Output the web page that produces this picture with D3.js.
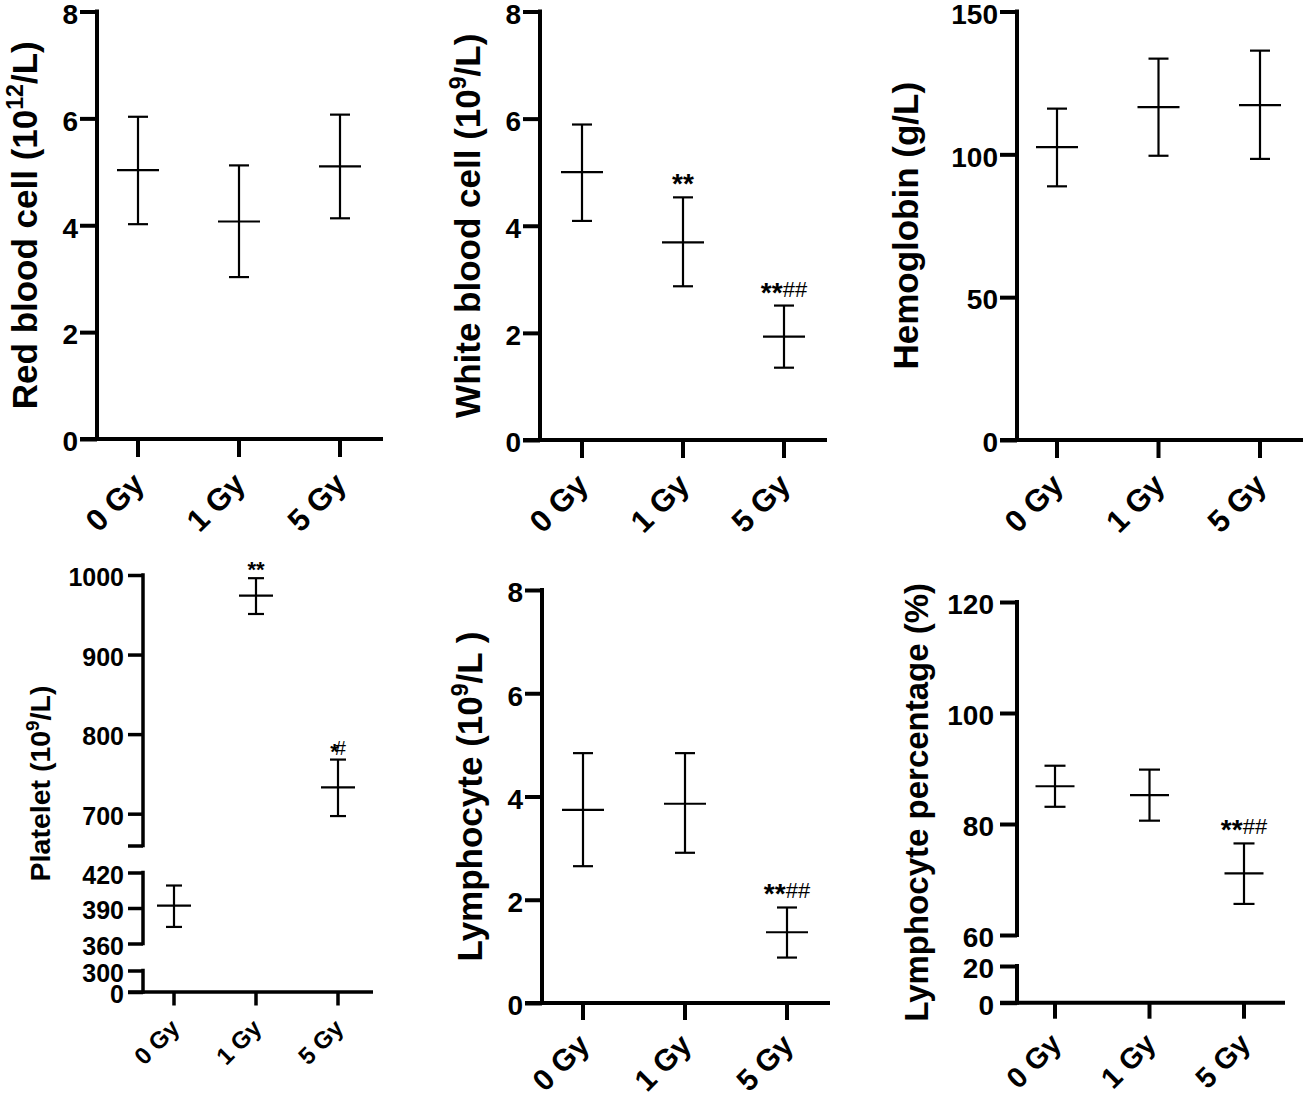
<!DOCTYPE html>
<html>
<head>
<meta charset="utf-8">
<script src="https://cdn.jsdelivr.net/npm/d3@7"></script>
<style>
  body { margin: 0; background: #fff; }
  svg { font-family: "Liberation Sans", Arial, sans-serif; }
</style>
</head>
<body>
<svg id="fig" width="1305" height="1097"></svg>
<script>
// doses on the x axis
const doses = ["0 Gy", "1 Gy", "5 Gy"];

// red blood cell (10^12/L)
const rbcMean  = [5.03, 4.07, 5.10];
const rbcUpper = [6.03, 5.12, 6.07];
const rbcLower = [4.02, 3.03, 4.13];

// white blood cell (10^9/L)
const wbcMean  = [5.00, 3.69, 1.93];
const wbcUpper = [5.89, 4.53, 2.51];
const wbcLower = [4.09, 2.87, 1.35];
const wbcSig   = ["", "**", "**##"];

// hemoglobin (g/L)
const hgbMean  = [102.5, 116.5, 117.2];
const hgbUpper = [116.0, 133.5, 136.3];
const hgbLower = [88.8, 99.5, 98.4];

// platelet (10^9/L)
const pltMean  = [392, 974, 733];
const pltUpper = [409, 996, 768];
const pltLower = [374, 951, 697];
const pltSig   = ["", "**", "*#"];

// lymphocyte (10^9/L)
const lymMean  = [3.74, 3.86, 1.37];
const lymUpper = [4.84, 4.84, 1.85];
const lymLower = [2.65, 2.91, 0.88];
const lymSig   = ["", "", "**##"];

// lymphocyte percentage (%)
const lpcMean  = [86.8, 85.2, 71.1];
const lpcUpper = [90.5, 89.8, 76.5];
const lpcLower = [83.1, 80.6, 65.6];
const lpcSig   = ["", "", "**##"];

// tick values
const ticks8   = [0, 2, 4, 6, 8];
const ticksHgb = [0, 50, 100, 150];
const ticksPlt = [0, 300, 360, 390, 420, 660, 700, 800, 900, 1000];
const ticksLpc = [0, 20, 60, 80, 100, 120];

const svg = d3.select("#fig");

function drawPanel(p) {
  const g = svg.append("g");

  const y = d3.scaleLinear().domain(p.yDomain).range(p.yRange);
  const x = d3.scalePoint().domain(doses).range(p.xRange);
  const y0 = y(0);

  // y ticks + labels
  const yAxis = g.append("g")
    .attr("transform", `translate(${p.ax},0)`)
    .call(d3.axisLeft(y)
      .tickValues(p.ticks)
      .tickSize(p.tickLen)
      .tickPadding(p.pad)
      .tickFormat(d => (p.hide || []).includes(d) ? "" : d));
  yAxis.select(".domain").remove();
  yAxis.selectAll("line").attr("stroke", "#000").attr("stroke-width", p.axisW);
  yAxis.selectAll("text")
    .attr("font-size", p.tickFont)
    .attr("font-weight", "bold")
    .attr("fill", "#000")
    .attr("dy", "0.42em")
    .attr("font-family", "Liberation Sans, Arial, sans-serif");

  // y axis line (possibly broken)
  const segs = p.segments || [[p.yDomain[0], p.yDomain[p.yDomain.length - 1]]];
  segs.forEach(s => {
    g.append("line")
      .attr("x1", p.ax).attr("x2", p.ax)
      .attr("y1", y(s[0]) + p.axisW / 2).attr("y2", y(s[1]) - p.axisW / 2)
      .attr("stroke", "#000").attr("stroke-width", p.axisW);
  });

  // x axis
  g.append("line")
    .attr("x1", p.ax - p.tickLen).attr("x2", p.xEnd)
    .attr("y1", y0).attr("y2", y0)
    .attr("stroke", "#000").attr("stroke-width", p.axisW);

  g.selectAll(".xt").data(doses).join("line")
    .attr("x1", d => x(d)).attr("x2", d => x(d))
    .attr("y1", y0).attr("y2", y0 + p.xTickLen)
    .attr("stroke", "#000").attr("stroke-width", p.axisW);

  g.selectAll(".xl").data(doses).join("text")
    .attr("transform", d => `translate(${x(d) + p.xlDx},${y0 + p.xTickLen + p.xlDy}) rotate(-45)`)
    .attr("text-anchor", "end")
    .attr("font-size", p.xFont)
    .attr("font-weight", "bold")
    .text(d => d);

  // error bars
  const rows = doses.map((d, i) => ({
    dose: d, mean: p.mean[i], hi: p.upper[i], lo: p.lower[i],
    sig: p.sig ? p.sig[i] : ""
  }));

  const bars = g.selectAll(".bar").data(rows).join("g")
    .attr("stroke", "#000").attr("stroke-width", p.barW);
  bars.append("line")
    .attr("x1", d => x(d.dose)).attr("x2", d => x(d.dose))
    .attr("y1", d => y(d.lo)).attr("y2", d => y(d.hi));
  bars.append("line")
    .attr("x1", d => x(d.dose) - p.capW).attr("x2", d => x(d.dose) + p.capW)
    .attr("y1", d => y(d.hi)).attr("y2", d => y(d.hi));
  bars.append("line")
    .attr("x1", d => x(d.dose) - p.capW).attr("x2", d => x(d.dose) + p.capW)
    .attr("y1", d => y(d.lo)).attr("y2", d => y(d.lo));
  bars.append("line")
    .attr("x1", d => x(d.dose) - p.meanW).attr("x2", d => x(d.dose) + p.meanW)
    .attr("y1", d => y(d.mean)).attr("y2", d => y(d.mean));

  // significance marks
  const sigs = g.selectAll(".sig").data(rows.filter(d => d.sig)).join("text")
    .attr("x", d => x(d.dose) + p.sigDx)
    .attr("y", d => y(d.hi) + p.sigDy)
    .attr("text-anchor", "middle");
  sigs.each(function(d) {
    const t = d3.select(this);
    const stars = d.sig.replace(/#/g, "");
    const hashes = d.sig.replace(/\*/g, "");
    t.append("tspan").attr("font-size", p.starFont).attr("font-weight", "bold").text(stars);
    if (hashes) {
      t.append("tspan").attr("font-size", p.hashFont).attr("dx", p.hashDx)
        .attr("dy", p.hashDy).text(hashes);
    }
  });

  // y title
  const top = p.yRange[p.yRange.length - 1];
  const title = g.append("text")
    .attr("transform", `translate(${p.labelX},${(top + y0) / 2}) rotate(-90)`)
    .attr("text-anchor", "middle")
    .attr("font-size", p.labelFont)
    .attr("font-weight", "bold");
  title.append("tspan").text(p.label[0]);
  if (p.label[1]) {
    title.append("tspan").attr("font-size", p.labelFont * 0.66)
      .attr("dy", -p.labelFont * 0.4).text(p.label[1]);
    title.append("tspan").attr("dy", p.labelFont * 0.4).text(p.label[2]);
  }
}

const big = {
  tickLen: 17, xTickLen: 18, pad: 2, axisW: 4, barW: 2.2, tickFont: 28,
  xFont: 31, xlDx: 8, xlDy: 29, labelFont: 35, capW: 10, meanW: 21,
  sigDx: 0, sigDy: -4, starFont: 28, hashFont: 22, hashDx: 0, hashDy: -5
};

drawPanel(Object.assign({}, big, {
  ax: 97, yDomain: [0, 8], yRange: [439, 11.5], ticks: ticks8,
  xRange: [138, 340], xEnd: 383, labelX: 37,
  mean: rbcMean, upper: rbcUpper, lower: rbcLower,
  label: ["Red blood cell (10", "12", "/L)"]
}));

drawPanel(Object.assign({}, big, {
  ax: 540, yDomain: [0, 8], yRange: [440, 11.5], ticks: ticks8,
  xRange: [582, 784], xEnd: 827, labelX: 480,
  mean: wbcMean, upper: wbcUpper, lower: wbcLower, sig: wbcSig,
  label: ["White blood cell (10", "9", "/L)"]
}));

drawPanel(Object.assign({}, big, {
  ax: 1017, yDomain: [0, 150], yRange: [440, 11.5], ticks: ticksHgb,
  xRange: [1057, 1260], xEnd: 1303, labelX: 918,
  mean: hgbMean, upper: hgbUpper, lower: hgbLower,
  label: ["Hemoglobin (g/L)"]
}));

drawPanel(Object.assign({}, big, {
  ax: 143, yDomain: [0, 300, 360, 420, 660, 1000],
  yRange: [992, 970.5, 943.5, 872.5, 845.5, 575], ticks: ticksPlt, hide: [660],
  segments: [[0, 300], [360, 420], [660, 1000]],
  tickLen: 15, xTickLen: 13.5, axisW: 3.5, tickFont: 25, pad: 4,
  xRange: [174, 338], xEnd: 373, xFont: 24, xlDx: 7, xlDy: 24,
  labelX: 50, labelFont: 28.5, capW: 8, meanW: 17,
  mean: pltMean, upper: pltUpper, lower: pltLower, sig: pltSig,
  sigDy: -1, starFont: 22, hashFont: 20, hashDx: -4, hashDy: -4,
  label: ["Platelet (10", "9", "/L)"]
}));

drawPanel(Object.assign({}, big, {
  ax: 542, yDomain: [0, 8], yRange: [1003, 590], ticks: ticks8,
  xRange: [583, 787], xEnd: 830, xFont: 30, xTickLen: 17, xlDx: 8, xlDy: 27,
  labelX: 482,
  mean: lymMean, upper: lymUpper, lower: lymLower, sig: lymSig,
  label: ["Lymphocyte (10", "9", "/L )"]
}));

drawPanel(Object.assign({}, big, {
  ax: 1017, yDomain: [0, 20, 60, 120], yRange: [1002.7, 966, 935, 602],
  ticks: ticksLpc, segments: [[0, 20], [60, 120]], pad: 6,
  xRange: [1055, 1244], xEnd: 1285, xFont: 29, xTickLen: 16, xlDx: 8, xlDy: 27,
  labelX: 928, labelFont: 33, capW: 10.5, meanW: 19.5,
  mean: lpcMean, upper: lpcUpper, lower: lpcLower, sig: lpcSig,
  label: ["Lymphocyte percentage (%)"]
}));
</script>
</body>
</html>
